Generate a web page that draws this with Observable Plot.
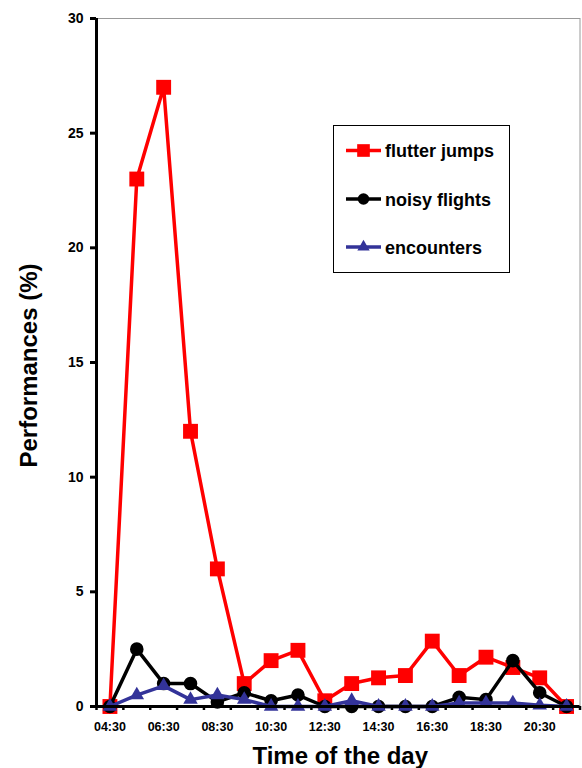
<!DOCTYPE html>
<html>
<head>
<meta charset="utf-8">
<script src="https://cdn.jsdelivr.net/npm/d3@7"></script>
<script src="https://cdn.jsdelivr.net/npm/@observablehq/plot@0.6"></script>
<style>
  html, body { margin: 0; padding: 0; background: #fff; }
  #chart { width: 582px; height: 768px; }
</style>
</head>
<body>
<div id="chart"></div>
<script>
// Hourly observation slots
const times = ["04:30", "05:30", "06:30", "07:30", "08:30", "09:30", "10:30", "11:30", "12:30",
               "13:30", "14:30", "15:30", "16:30", "17:30", "18:30", "19:30", "20:30", "21:30"];

// Share of performances (%) per slot
const flutterJumps = [0, 23, 27, 12, 6, 1.0, 2.0, 2.45, 0.25, 1.0, 1.25, 1.35, 2.85, 1.35, 2.15, 1.7, 1.25, 0];
const noisyFlights = [0, 2.5, 1.0, 1.0, 0.2, 0.6, 0.25, 0.5, 0, 0, 0, 0, 0, 0.4, 0.3, 2.0, 0.6, 0];
const encounters   = [0, 0.5, 0.9, 0.3, 0.5, 0.3, 0, 0, 0, 0.25, 0, 0, 0, 0.15, 0.15, 0.15, 0.05, 0];

const yTicks = [0, 5, 10, 15, 20, 25, 30];
const labelledTimes = ["04:30", "06:30", "08:30", "10:30", "12:30", "14:30", "16:30", "18:30", "20:30"];

const seriesNames = ["flutter jumps", "noisy flights", "encounters"];
const seriesValues = [flutterJumps, noisyFlights, encounters];
const seriesColors = ["#ff0000", "#000000", "#333399"];
const seriesSymbols = ["square", "circle", "triangle"];
const seriesR = [8.4, 6.8, 5.4];

const font = "'Liberation Sans', Arial, Helvetica, sans-serif";

// long table: one row per slot and series
const rows = seriesNames.flatMap((name, s) =>
  seriesValues[s].map((v, i) => ({series: name, idx: i, time: times[i], value: v})));

const idxOf = t => times.indexOf(t);
// tick marks sit between categories
const boundaries = d3.range(times.length + 1).map(k => k - 0.5);

const seriesMarks = seriesNames.flatMap((name, s) => {
  const data = rows.filter(d => d.series === name);
  return [
    Plot.line(data, {x: "idx", y: "value", stroke: seriesColors[s], strokeWidth: 3.5}),
    Plot.dot(data, {x: "idx", y: "value", symbol: () => seriesSymbols[s], r: seriesR[s],
                    fill: seriesColors[s], stroke: "none"})
  ];
});

const chart = Plot.plot({
  width: 582,
  height: 768,
  marginLeft: 96,
  marginRight: 2.5,
  marginTop: 18,
  marginBottom: 62,
  style: {fontFamily: font, background: "#fff", overflow: "visible"},
  symbol: {type: "identity"},
  x: {domain: [-0.5, times.length - 0.5], axis: null},
  y: {domain: [0, 30], axis: null},
  marks: [
    Plot.frame({stroke: "#999", strokeWidth: 1}),
    ...seriesMarks,
    // axes
    Plot.axisY(yTicks, {tickSize: 6, tickPadding: 7, strokeWidth: 3, fontSize: 14,
                        fontWeight: "bold", fill: "#000", label: null}),
    Plot.axisX(boundaries, {tickSize: 4, strokeWidth: 2.5, tickFormat: () => "", label: null}),
    Plot.axisX(labelledTimes.map(idxOf), {tickSize: 0, tickPadding: 16, fontSize: 12.5,
                        fontWeight: "bold", fill: "#000", tickFormat: i => times[i], label: null}),
    Plot.ruleX([-0.5], {stroke: "#000", strokeWidth: 3}),
    Plot.ruleY([0], {stroke: "#000", strokeWidth: 3}),
    // titles
    Plot.text(["Time of the day"], {frameAnchor: "bottom", dx: 2, dy: 49.5, fontSize: 24,
                        fontWeight: "bold", fill: "#000", lineAnchor: "middle"}),
    Plot.text(["Performances (%)"], {frameAnchor: "left", dx: -67, dy: 3, rotate: -90, fontSize: 24,
                        fontWeight: "bold", fill: "#000", lineAnchor: "middle", textAnchor: "middle"})
  ]
});

document.getElementById("chart").appendChild(chart);

// legend box inside the plot area
const svg = d3.select(chart);
const legend = svg.append("g").attr("transform", "translate(333,125)")
  .attr("text-anchor", "start");
legend.append("rect")
  .attr("x", 0.5).attr("y", 0.5).attr("width", 176).attr("height", 147)
  .attr("fill", "#fff").attr("stroke", "#000").attr("stroke-width", 1);
const rowY = [25.5, 74, 122];
seriesNames.forEach((name, s) => {
  const g = legend.append("g").attr("transform", `translate(0,${rowY[s]})`);
  g.append("line").attr("x1", 13).attr("x2", 48).attr("y1", 0).attr("y2", 0)
    .attr("stroke", seriesColors[s]).attr("stroke-width", 3.5);
  const sym = {square: d3.symbolSquare, circle: d3.symbolCircle, triangle: d3.symbolTriangle}[seriesSymbols[s]];
  const rr = seriesR[s] * 0.85;
  g.append("path").attr("transform", "translate(30.5,0)")
    .attr("d", d3.symbol(sym, Math.PI * rr * rr)())
    .attr("fill", seriesColors[s]);
  g.append("text").attr("x", 52).attr("y", 6.5).attr("text-anchor", "start")
    .attr("font-family", font).attr("font-size", 18).attr("font-weight", "bold")
    .attr("fill", "#000").text(name);
});
</script>
</body>
</html>
